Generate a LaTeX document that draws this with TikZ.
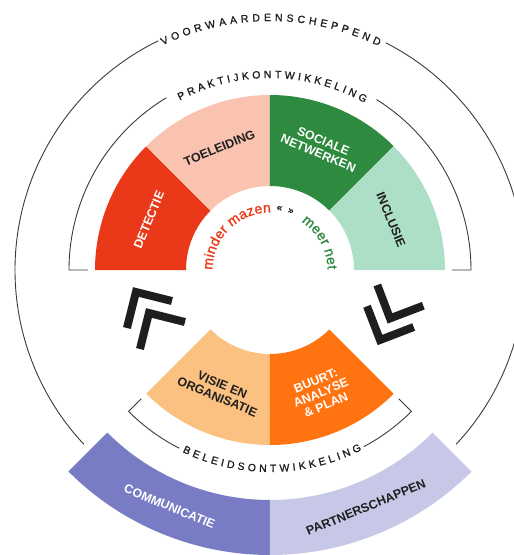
\documentclass[tikz,border=0pt]{standalone}
\usepackage{fontspec}
\setmainfont{Liberation Sans}
\newfontfamily\medfont{Liberation Sans}[FakeBold=1.2]
\usetikzlibrary{decorations.text}
\definecolor{cDet}{HTML}{E93918}
\definecolor{cToe}{HTML}{F9C3AF}
\definecolor{cSoc}{HTML}{2D8A3E}
\definecolor{cInc}{HTML}{ADDFC6}
\definecolor{cVis}{HTML}{FAC180}
\definecolor{cBuu}{HTML}{FF7410}
\definecolor{cCom}{HTML}{787CC4}
\definecolor{cPar}{HTML}{C7C8E8}
\definecolor{cDark}{HTML}{1E1E1E}
\definecolor{cLine}{HTML}{3A3A3A}
\newcommand\ringsector[5]{\fill[#1] (#2:#4) arc[start angle=#2, end angle=#3, radius=#4] -- (#3:#5) arc[start angle=#3, end angle=#2, radius=#5] -- cycle;}
\newcommand\spacedfont{\medfont\fontsize{10.5}{12}\selectfont}
\newcommand\innerfont{\medfont\fontsize{14}{16}\selectfont}
\tikzset{
  lbl/.style={font=\fontsize{12.4}{13.2}\selectfont\bfseries, align=center, inner sep=0pt},
  bracketline/.style={draw=cLine, line width=0.9pt},
  chevron/.style={draw=cDark, line width=8pt, line join=miter},
}
\begin{document}
\begin{tikzpicture}[x=1pt,y=1pt]
\useasboundingbox (-270,-285) rectangle (244,270);
\clip (-270,-285) rectangle (244,270);
% upper half ring
\ringsector{cDet}{180}{135}{84}{175}
\ringsector{cToe}{135}{90}{84}{175}
\ringsector{cSoc}{90}{45}{84}{175}
\ringsector{cInc}{45}{0}{84}{175}
% lower ring
\ringsector{cVis}{-135}{-90}{84}{175}
\ringsector{cBuu}{-90}{-45}{84}{175}
% bottom band
\ringsector{cCom}{-135}{-90}{230}{285}
\ringsector{cPar}{-90}{-45}{230}{285}
% outer circle
\draw[bracketline] (116:255) arc[start angle=116, end angle=223.1, radius=255];
\draw[bracketline] (63:255) arc[start angle=63, end angle=-43.1, radius=255];
% brackets
\draw[bracketline] (180:182) -- (180:201) arc[start angle=180, end angle=121, radius=201];
\draw[bracketline] (0:182) -- (0:201) arc[start angle=0, end angle=58, radius=201];
\draw[bracketline] (-135:182) -- (-135:200) arc[start angle=-135, end angle=-117, radius=200];
\draw[bracketline] (-45:182) -- (-45:200) arc[start angle=-45, end angle=-62, radius=200];
% curved texts
\path[decorate, decoration={text along path, text={|\spacedfont\color{cDark}|VOORWAARDENSCHEPPEND}, text align={fit to path}}]
  (115.5:249) arc[start angle=115.5, end angle=64.1, radius=249];
\path[decorate, decoration={text along path, text={|\spacedfont\color{cDark}|PRAKTIJKONTWIKKELING}, text align={fit to path}}]
  (118:192) arc[start angle=118, end angle=60.5, radius=192];
\path[decorate, decoration={text along path, text={|\spacedfont\color{cDark}|BELEIDSONTWIKKELING}, text align={fit to path}}]
  (-115.7:202) arc[start angle=-115.7, end angle=-63, radius=202];
\path[decorate, decoration={text along path, text={|\innerfont\color{cDet}|minder mazen}, text align={fit to path}}]
  (180:57.5) arc[start angle=180, end angle=89, radius=57.5];
\path[decorate, decoration={text along path, text={|\medfont\fontsize{10}{12}\selectfont\color{cDark}|« »}, text align={fit to path}}]
  (84:60) arc[start angle=84, end angle=68, radius=60];
\path[decorate, decoration={text along path, text={|\innerfont\color{cSoc}|meer net}, text align={fit to path}}]
  (57:57.5) arc[start angle=57, end angle=0.5, radius=57.5];
% chevrons
\draw[chevron] (-98,-31) -- (-134,-22) -- (-143,-58);
\draw[chevron] (-85,-52) -- (-121,-43) -- (-130,-79);
\draw[chevron] (107.3,-15) -- (120,-48.4) -- (153.3,-35.7);
\draw[chevron] (97,-36.3) -- (110,-70) -- (143.7,-57);
% labels
\node[lbl, text=white, rotate=67.5] (detectie) at (157.5:131) {DETECTIE};
\node[lbl, text=cDark, rotate=22.5] (toeleiding) at (112.5:132) {TOELEIDING};
\node[lbl, text=white, rotate=-22.5] (sociale) at (67.5:133) {SOCIALE\\NETWERKEN};
\node[lbl, text=cDark, rotate=-67.5] (inclusie) at (22.5:131) {INCLUSIE};
\node[lbl, text=cDark, rotate=-22.5] (visie) at (-112.5:131) {VISIE EN\\ORGANISATIE};
\node[lbl, text=white, rotate=22.5] (buurt) at (-67.5:133) {BUURT:\\ANALYSE\\\& PLAN};
\node[lbl, text=white, rotate=-22.5] (communicatie) at (-113:257) {COMMUNICATIE};
\node[lbl, text=cDark, rotate=22.5] (partnerschappen) at (-68:256) {PARTNERSCHAPPEN};
\end{tikzpicture}
\end{document}
